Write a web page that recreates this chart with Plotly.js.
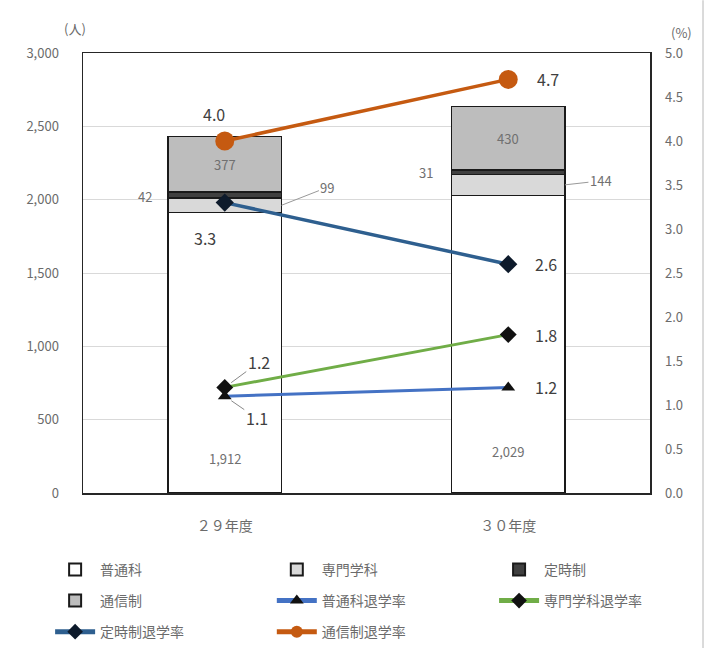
<!DOCTYPE html>
<html>
<head>
<meta charset="utf-8">
<script src="https://cdn.plot.ly/plotly-3.0.1.min.js"></script>
<style>html,body{margin:0;padding:0;background:#fff;}#chart{width:715px;height:648px;}</style>
</head>
<body>
<div id="chart"></div>
<script>
// ---- data ----
const years = ['２９年度', '３０年度'];
const futsuka = [1912, 2029];      // 普通科
const senmon = [99, 144];          // 専門学科
const teijisei = [42, 31];         // 定時制
const tsushin = [377, 430];        // 通信制
const rateFutsuka = [1.1, 1.2];    // 普通科退学率
const rateSenmon = [1.2, 1.8];     // 専門学科退学率
const rateTeiji = [3.3, 2.6];      // 定時制退学率
const rateTsushin = [4.0, 4.7];    // 通信制退学率
const leftTicks = [0, 500, 1000, 1500, 2000, 2500, 3000];
const leftTickText = ['0', '500', '1,000', '1,500', '2,000', '2,500', '3,000'];
const rightTicks = [0, 0.5, 1, 1.5, 2, 2.5, 3, 3.5, 4, 4.5, 5];
const rightTickText = ['0.0', '0.5', '1.0', '1.5', '2.0', '2.5', '3.0', '3.5', '4.0', '4.5', '5.0'];

const FONT = '"Noto Sans CJK JP", "Noto Sans", sans-serif';
const GRAY = '#6b6b6b';
const barLine = {color: '#1a1a1a', width: 1.5};

const traces = [
  {type: 'bar', name: '普通科', x: years, y: futsuka, marker: {color: '#ffffff', line: barLine}, width: 0.4, legend: 'legend'},
  {type: 'bar', name: '専門学科', x: years, y: senmon, marker: {color: '#d9d9d9', line: barLine}, width: 0.4, legend: 'legend2'},
  {type: 'bar', name: '定時制', x: years, y: teijisei, marker: {color: '#404040', line: barLine}, width: 0.4, legend: 'legend3'},
  {type: 'bar', name: '通信制', x: years, y: tsushin, marker: {color: '#bdbdbd', line: barLine}, width: 0.4, legend: 'legend4'},
  {type: 'scatter', mode: 'lines+markers', name: '普通科退学率', x: years, y: rateFutsuka, yaxis: 'y2',
   line: {color: '#4472c4', width: 3}, marker: {symbol: 'triangle-up', size: 12, color: '#111111'}, legend: 'legend5'},
  {type: 'scatter', mode: 'lines+markers', name: '専門学科退学率', x: years, y: rateSenmon, yaxis: 'y2',
   line: {color: '#70ad47', width: 3}, marker: {symbol: 'diamond', size: 13, color: '#111111'}, legend: 'legend6'},
  {type: 'scatter', mode: 'lines+markers', name: '定時制退学率', x: years, y: rateTeiji, yaxis: 'y2',
   line: {color: '#2e5f8f', width: 3.5}, marker: {symbol: 'diamond', size: 14, color: '#0d1a2b'}, legend: 'legend7'},
  {type: 'scatter', mode: 'lines+markers', name: '通信制退学率', x: years, y: rateTsushin, yaxis: 'y2',
   line: {color: '#c55a11', width: 3.5}, marker: {symbol: 'circle', size: 19, color: '#c55a11'}, legend: 'legend8'}
];

function cum(i, n) { // cumulative top of segment n for category i
  const segs = [futsuka, senmon, teijisei, tsushin];
  let s = 0; for (let k = 0; k <= n; k++) s += segs[k][i]; return s;
}
const fmt = v => v.toLocaleString('en-US');
const barFont = {family: FONT, size: 13, color: '#707070'};
const lineFont = {family: FONT, size: 16, color: '#404040'};

const ann = [
  {x: 0, y: 232, text: fmt(futsuka[0]), showarrow: false, font: barFont},
  {x: 1, y: 286, text: fmt(futsuka[1]), showarrow: false, font: barFont},
  {x: 0, y: cum(0, 2) + tsushin[0] / 2, text: String(tsushin[0]), showarrow: false, font: barFont},
  {x: 1, y: cum(1, 2) + tsushin[1] / 2, text: String(tsushin[1]), showarrow: false, font: barFont},
  {x: 0, y: cum(0, 1) + teijisei[0] / 2, text: String(teijisei[0]), showarrow: false, font: barFont, xshift: -80, yshift: -2},
  {x: 1, y: cum(1, 1) + teijisei[1] / 2, text: String(teijisei[1]), showarrow: false, font: barFont, xshift: -82},
  {x: 0.2, y: futsuka[0] + senmon[0] / 2, text: String(senmon[0]), showarrow: true, arrowhead: 0, arrowwidth: 1, arrowcolor: '#999',
   ax: 46, ay: -18, font: barFont},
  {x: 1.2, y: futsuka[1] + senmon[1] / 2, text: String(senmon[1]), showarrow: true, arrowhead: 0, arrowwidth: 1, arrowcolor: '#999',
   ax: 36, ay: -4, font: barFont},
  {x: 0, y: rateTsushin[0], yref: 'y2', text: rateTsushin[0].toFixed(1), showarrow: false, font: lineFont, yshift: 27, xshift: -11},
  {x: 1, y: rateTsushin[1], yref: 'y2', text: rateTsushin[1].toFixed(1), showarrow: false, font: lineFont, xshift: 40},
  {x: 0, y: rateTeiji[0], yref: 'y2', text: rateTeiji[0].toFixed(1), showarrow: false, font: lineFont, yshift: -35, xshift: -20},
  {x: 1, y: rateTeiji[1], yref: 'y2', text: rateTeiji[1].toFixed(1), showarrow: false, font: lineFont, xshift: 38},
  {x: 1, y: rateSenmon[1], yref: 'y2', text: rateSenmon[1].toFixed(1), showarrow: false, font: lineFont, xshift: 38},
  {x: 1, y: rateFutsuka[1], yref: 'y2', text: rateFutsuka[1].toFixed(1), showarrow: false, font: lineFont, xshift: 38},
  {x: 0, y: rateSenmon[0], yref: 'y2', text: rateSenmon[0].toFixed(1), showarrow: true, arrowhead: 0, arrowwidth: 1, arrowcolor: '#888',
   ax: 34, ay: -25, standoff: 8, font: lineFont},
  {x: 0, y: rateFutsuka[0], yref: 'y2', text: rateFutsuka[0].toFixed(1), showarrow: true, arrowhead: 0, arrowwidth: 1, arrowcolor: '#888',
   ax: 32, ay: 22, standoff: 8, font: lineFont},
  {xref: 'paper', yref: 'paper', x: -0.037, y: 1.082, text: '(人)', showarrow: false, font: {family: FONT, size: 13, color: GRAY}},
  {xref: 'paper', yref: 'paper', x: 1.078, y: 1.072, text: '(%)', showarrow: false, font: {family: FONT, size: 13, color: GRAY}}
];

const legendFont = {family: FONT, size: 14, color: '#6b6b6b'};
const legBase = {orientation: 'h', xanchor: 'left', yanchor: 'middle', itemwidth: 40,
  font: legendFont, bgcolor: 'rgba(0,0,0,0)', itemsizing: 'constant'};
const colX = [-0.058, 0.333, 0.725];
const rowY = [-0.175, -0.2455, -0.316];
const legendSlots = {};
for (let k = 0; k < 8; k++) {
  const key = k === 0 ? 'legend' : 'legend' + (k + 1);
  legendSlots[key] = Object.assign({}, legBase, {x: colX[k % 3], y: rowY[Math.floor(k / 3)]});
}

const layout = Object.assign({
  width: 715, height: 648,
  margin: {l: 83, r: 65, t: 53, b: 155, autoexpand: false},
  paper_bgcolor: '#ffffff', plot_bgcolor: '#ffffff',
  barmode: 'stack',
  showlegend: true,
  xaxis: {type: 'category', showline: true, mirror: true, linecolor: '#262626', linewidth: 1.5, ticks: '',
    tickfont: {family: FONT, size: 14, color: GRAY}, ticklabelstandoff: 20, showgrid: false, zeroline: false},
  yaxis: {range: [0, 3000], tickvals: leftTicks, ticktext: leftTickText, showline: true, mirror: true, linecolor: '#262626', linewidth: 1.5,
    gridcolor: '#d9d9d9', gridwidth: 1, zeroline: false, tickfont: {family: FONT, size: 13, color: GRAY}, ticks: '', ticklabelstandoff: 20},
  yaxis2: {range: [0, 5], overlaying: 'y', side: 'right', tickvals: rightTicks, ticktext: rightTickText, showgrid: false, zeroline: false,
    showline: false, tickfont: {family: FONT, size: 13, color: GRAY}, ticks: '', ticklabelstandoff: 14},
  annotations: ann,
  shapes: [
    {type: 'line', xref: 'paper', yref: 'paper', x0: 1.0935, x1: 1.0935, y0: -0.352, y1: 1.12, line: {color: '#cfcfcf', width: 1.5}}
  ]
}, legendSlots);

Plotly.newPlot('chart', traces, layout, {displayModeBar: false, staticPlot: true});
</script>
</body>
</html>
